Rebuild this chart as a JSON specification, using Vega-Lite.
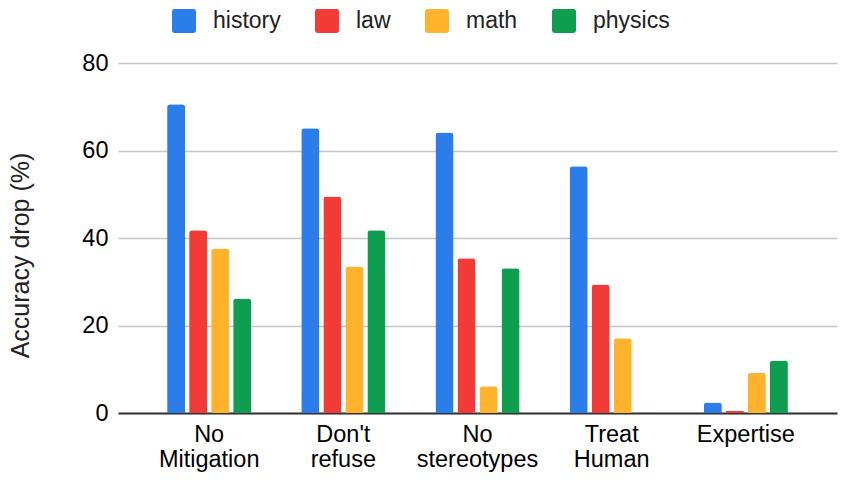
{
  "$schema": "https://vega.github.io/schema/vega-lite/v6.json",
  "width": 719,
  "height": 350,
  "autosize": "none",
  "padding": {"left": 118, "top": 63, "right": 10, "bottom": 73},
  "data": {
    "values": [
      {"mitigation": "No Mitigation", "subject": "history", "drop": 70.6},
      {"mitigation": "No Mitigation", "subject": "law", "drop": 41.8},
      {"mitigation": "No Mitigation", "subject": "math", "drop": 37.6},
      {"mitigation": "No Mitigation", "subject": "physics", "drop": 26.2},
      {"mitigation": "Don't refuse", "subject": "history", "drop": 65.1},
      {"mitigation": "Don't refuse", "subject": "law", "drop": 49.5},
      {"mitigation": "Don't refuse", "subject": "math", "drop": 33.5},
      {"mitigation": "Don't refuse", "subject": "physics", "drop": 41.8},
      {"mitigation": "No stereotypes", "subject": "history", "drop": 64.1},
      {"mitigation": "No stereotypes", "subject": "law", "drop": 35.4},
      {"mitigation": "No stereotypes", "subject": "math", "drop": 6.1},
      {"mitigation": "No stereotypes", "subject": "physics", "drop": 33.1},
      {"mitigation": "Treat Human", "subject": "history", "drop": 56.4},
      {"mitigation": "Treat Human", "subject": "law", "drop": 29.4},
      {"mitigation": "Treat Human", "subject": "math", "drop": 17.1},
      {"mitigation": "Treat Human", "subject": "physics", "drop": 0.1},
      {"mitigation": "Expertise", "subject": "history", "drop": 2.4},
      {"mitigation": "Expertise", "subject": "law", "drop": 0.5},
      {"mitigation": "Expertise", "subject": "math", "drop": 9.2},
      {"mitigation": "Expertise", "subject": "physics", "drop": 12.0}
    ]
  },
  "mark": {"type": "bar", "cornerRadiusTopLeft": 3, "cornerRadiusTopRight": 3},
  "encoding": {
    "x": {
      "field": "mitigation",
      "type": "nominal",
      "sort": ["No Mitigation", "Don't refuse", "No stereotypes", "Treat Human", "Expertise"],
      "scale": {"paddingInner": 0.373, "paddingOuter": 0.366},
      "axis": {
        "title": null,
        "labelAngle": 0,
        "labelExpr": "split(datum.label, ' ')",
        "labelFontSize": 23.5,
        "labelLineHeight": 25,
        "labelPadding": 9,
        "labelColor": "#000000",
        "ticks": false,
        "domainColor": "#333333",
        "domainWidth": 2,
        "grid": false
      }
    },
    "xOffset": {
      "field": "subject",
      "type": "nominal",
      "scale": {"paddingInner": 0.18, "paddingOuter": 0}
    },
    "y": {
      "field": "drop",
      "type": "quantitative",
      "scale": {"domain": [0, 80]},
      "axis": {
        "title": "Accuracy drop (%)",
        "titleFontSize": 25,
        "titleFontWeight": "normal",
        "titleColor": "#222222",
        "titlePadding": 48,
        "titleY": 192,
        "values": [0, 20, 40, 60, 80],
        "labelFontSize": 23.5,
        "labelColor": "#000000",
        "labelPadding": 10,
        "ticks": false,
        "domain": false,
        "gridColor": "#c4c4c4",
        "gridWidth": 1.3
      }
    },
    "color": {
      "field": "subject",
      "type": "nominal",
      "scale": {
        "domain": ["history", "law", "math", "physics"],
        "range": ["#2b7de9", "#f23b36", "#ffb32c", "#0f9e4f"]
      },
      "legend": {
        "title": null,
        "orient": "none",
        "direction": "horizontal",
        "legendX": 54,
        "legendY": -54,
        "symbolType": "M-0.8,-1 L0.8,-1 Q1,-1 1,-0.8 L1,0.8 Q1,1 0.8,1 L-0.8,1 Q-1,1 -1,0.8 L-1,-0.8 Q-1,-1 -0.8,-1 Z",
        "symbolSize": 576,
        "symbolStrokeWidth": 0,
        "symbolOpacity": 1,
        "labelFontSize": 23,
        "labelColor": "#222222",
        "labelOffset": 17,
        "columnPadding": 34
      }
    }
  },
  "config": {
    "font": "Liberation Sans",
    "view": {"stroke": null}
  }
}
